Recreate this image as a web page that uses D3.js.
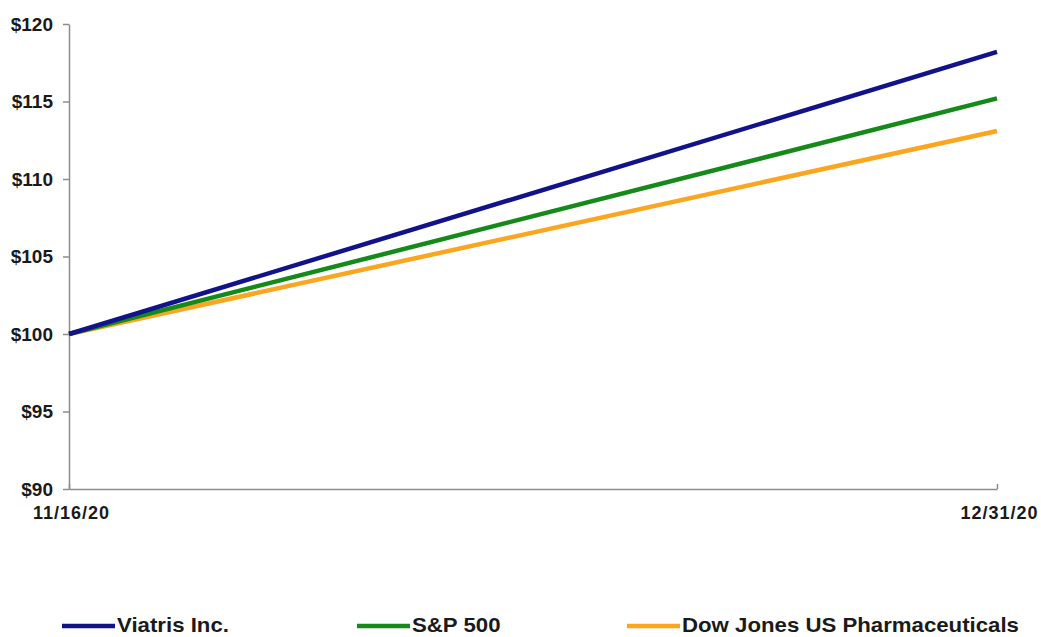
<!DOCTYPE html>
<html>
<head>
<meta charset="utf-8">
<script src="https://cdn.jsdelivr.net/npm/d3@7"></script>
<style>
  body { margin: 0; background: #fff; }
  svg { display: block; font-family: "Liberation Sans", Arial, sans-serif; }
  .axis path, .axis line { stroke: #8c8c8c; stroke-width: 1.5px; }
  .axis text { font-weight: bold; fill: #1a1a1a; }
</style>
</head>
<body>
<svg id="chart" width="1041" height="637"></svg>
<script>
// dates on the x axis
const dates = ["2020-11-16", "2020-12-31"]
const dateLabels = ["11/16/20", "12/31/20"]
// y axis ticks
const yTicks = [90, 95, 100, 105, 110, 115, 120]
// series, value at each date
const seriesNames = ["Viatris Inc.", "S&P 500", "Dow Jones US Pharmaceuticals"]
const viatris = [100, 118.2]
const sp500 = [100, 115.2]
const dowPharma = [100, 113.1]
const seriesColors = ["#12128a", "#15891a", "#fca51e"]

const parse = d3.timeParse("%Y-%m-%d")
const xDates = dates.map(parse)
const series = [viatris, sp500, dowPharma].map((vals, i) => ({
  name: seriesNames[i],
  color: seriesColors[i],
  points: vals.map((v, j) => ({ date: xDates[j], value: v }))
}))

const svg = d3.select("#chart")
const plotLeft = 69, plotRight = 997, plotTop = 24, plotBottom = 489

const x = d3.scaleTime().domain(d3.extent(xDates)).range([plotLeft, plotRight])
const y = d3.scaleLinear().domain([90, 120]).range([plotBottom, plotTop])

// y axis
svg.append("g")
  .attr("class", "axis")
  .attr("transform", `translate(${plotLeft},0)`)
  .call(d3.axisLeft(y).tickValues(yTicks).tickSizeInner(6).tickSizeOuter(0).tickPadding(10)
    .tickFormat(d => "$" + d))
  .call(g => g.selectAll("text").style("font-size", "19px"))

// x axis (ticks point up into the plot)
svg.append("g")
  .attr("class", "axis")
  .attr("transform", `translate(0,${plotBottom})`)
  .call(d3.axisBottom(x).tickValues(xDates).tickSizeInner(-5).tickSizeOuter(0)
    .tickFormat((d, i) => dateLabels[i]))
  .call(g => g.selectAll("text")
    .style("font-size", "18px")
    .style("letter-spacing", "1px")
    .attr("y", 30).attr("dy", null).attr("dx", 2))

// lines
const line = d3.line().x(d => x(d.date)).y(d => y(d.value))
svg.append("g")
  .selectAll("path")
  .data(series.slice().reverse())
  .join("path")
  .attr("d", d => line(d.points))
  .attr("fill", "none")
  .attr("stroke", d => d.color)
  .attr("stroke-width", 4.5)

// legend
const legendX = [62, 357, 627]
const legend = svg.append("g")
  .selectAll("g")
  .data(series)
  .join("g")
  .attr("transform", (d, i) => `translate(${legendX[i]},626)`)
legend.append("line")
  .attr("x1", 0).attr("x2", 53)
  .attr("stroke", d => d.color)
  .attr("stroke-width", 4.5)
legend.append("text")
  .attr("transform", "translate(55,6) scale(1.14,1)")
  .style("font-size", "19.5px")
  .style("font-weight", "bold")
  .attr("fill", "#1a1a1a")
  .text(d => d.name)
</script>
</body>
</html>
